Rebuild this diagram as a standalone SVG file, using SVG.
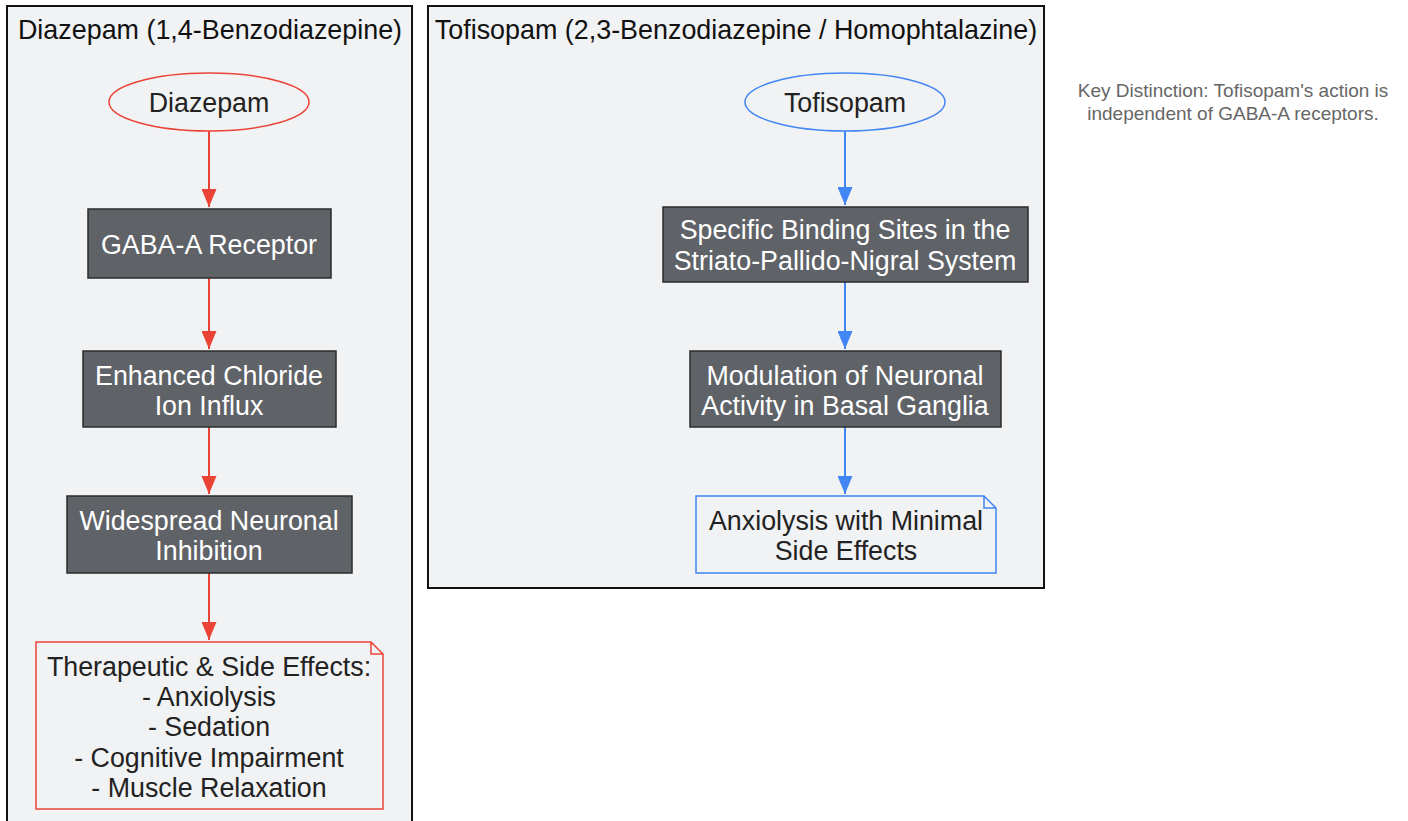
<svg xmlns="http://www.w3.org/2000/svg" width="1408" height="821" viewBox="0 0 1408 821">
<style>
text{font-family:"Liberation Sans",Arial,sans-serif;text-anchor:middle}
.cl{fill:#f1f2f4;stroke:#111;stroke-width:2}
.ct{font-size:26.9px;fill:#111}
.box{fill:#5f6368;stroke:#2b2b2b;stroke-width:1.5}
.bt{font-size:26.8px;fill:#fff}
.nt{font-size:26.8px;fill:#222}
.red{stroke:#ea4335;stroke-width:2;fill:none}
.blue{stroke:#4285f4;stroke-width:2;fill:none}
.key{font-size:19px;fill:#666}
</style>
<defs>
<marker id="ar" viewBox="0 0 18 15" refX="18" refY="7.5" markerWidth="18" markerHeight="15" markerUnits="userSpaceOnUse" orient="auto"><path d="M0,0L18,7.5L0,15z" fill="#ea4335"/></marker>
<marker id="ab" viewBox="0 0 18 15" refX="18" refY="7.5" markerWidth="18" markerHeight="15" markerUnits="userSpaceOnUse" orient="auto"><path d="M0,0L18,7.5L0,15z" fill="#4285f4"/></marker>
</defs>
<rect width="1408" height="821" fill="#fff"/>
<g id="cluster-diazepam">
<rect class="cl" x="7" y="6" width="405" height="830"/>
<text class="ct" x="210" y="39">Diazepam (1,4-Benzodiazepine)</text>
</g>
<g id="cluster-tofisopam">
<rect class="cl" x="428" y="6" width="616" height="582"/>
<text class="ct" x="736" y="39">Tofisopam (2,3-Benzodiazepine / Homophtalazine)</text>
</g>
<g id="connectors">
<path class="red" d="M209,131V207" marker-end="url(#ar)"/>
<path class="red" d="M209,278V349" marker-end="url(#ar)"/>
<path class="red" d="M209,427V494" marker-end="url(#ar)"/>
<path class="red" d="M209,573V640" marker-end="url(#ar)"/>
<path class="blue" d="M845,131V205" marker-end="url(#ab)"/>
<path class="blue" d="M845,282V349" marker-end="url(#ab)"/>
<path class="blue" d="M845,427V494" marker-end="url(#ab)"/>
</g>
<g id="diazepam">
<ellipse cx="209" cy="102" rx="100" ry="29" fill="#f1f2f4" stroke="#ea4335" stroke-width="1.5"/>
<text class="nt" x="209" y="111.5">Diazepam</text>
</g>
<g id="gaba">
<rect class="box" x="88" y="209" width="243" height="69"/>
<text class="bt" x="209" y="253.5">GABA-A Receptor</text>
</g>
<g id="chloride">
<rect class="box" x="83" y="351" width="253" height="76"/>
<text class="bt" x="209" y="385">Enhanced Chloride</text>
<text class="bt" x="209" y="415">Ion Influx</text>
</g>
<g id="inhibition">
<rect class="box" x="67" y="496" width="285" height="77"/>
<text class="bt" x="209" y="530">Widespread Neuronal</text>
<text class="bt" x="209" y="560">Inhibition</text>
</g>
<g id="effects">
<path d="M36,642H371L383,654V809H36Z M371,642V654H383" fill="#f1f2f4" stroke="#ea4335" stroke-width="1.5"/>
<text class="nt" x="209" y="676">Therapeutic &amp; Side Effects:</text>
<text class="nt" x="209" y="706">- Anxiolysis</text>
<text class="nt" x="209" y="736">- Sedation</text>
<text class="nt" x="209" y="767">- Cognitive Impairment</text>
<text class="nt" x="209" y="797">- Muscle Relaxation</text>
</g>
<g id="tofisopam">
<ellipse cx="845" cy="102" rx="100" ry="29" fill="#f1f2f4" stroke="#4285f4" stroke-width="1.5"/>
<text class="nt" x="845" y="111.5">Tofisopam</text>
</g>
<g id="binding">
<rect class="box" x="663" y="207" width="365" height="75"/>
<text class="bt" x="845" y="239">Specific Binding Sites in the</text>
<text class="bt" x="845" y="270">Striato-Pallido-Nigral System</text>
</g>
<g id="modulation">
<rect class="box" x="690" y="351" width="311" height="76"/>
<text class="bt" x="845" y="385">Modulation of Neuronal</text>
<text class="bt" x="845" y="415">Activity in Basal Ganglia</text>
</g>
<g id="anxiolysis">
<path d="M696,496H984L996,508V573H696Z M984,496V508H996" fill="#f1f2f4" stroke="#4285f4" stroke-width="1.5"/>
<text class="nt" x="846" y="530">Anxiolysis with Minimal</text>
<text class="nt" x="846" y="560">Side Effects</text>
</g>
<g id="key">
<text class="key" x="1233" y="97">Key Distinction: Tofisopam's action is</text>
<text class="key" x="1233" y="120">independent of GABA-A receptors.</text>
</g>
</svg>
